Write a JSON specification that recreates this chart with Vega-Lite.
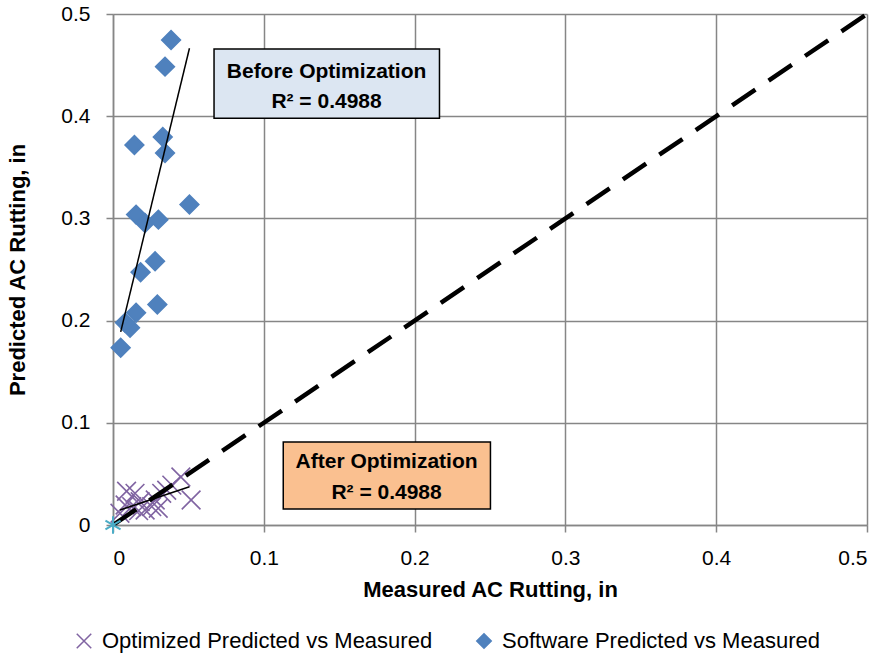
{
  "$schema": "https://vega.github.io/schema/vega-lite/v6.json",
  "width": 754,
  "height": 511,
  "autosize": {"type": "none"},
  "padding": {"left": 113, "top": 14, "right": 17, "bottom": 133},
  "background": "white",
  "config": {
    "font": "Liberation Sans",
    "view": {"stroke": null},
    "axis": {
      "gridColor": "#868686", "gridWidth": 1.5, "domainColor": "#868686", "domainWidth": 1.5,
      "tickColor": "#868686", "tickWidth": 1.5, "tickSize": 7,
      "labelFont": "Liberation Sans", "labelFontSize": 21, "labelColor": "#000",
      "titleFont": "Liberation Sans", "titleFontSize": 22, "titleFontWeight": "bold", "titleColor": "#000"
    },
    "legend": {
      "labelFont": "Liberation Sans", "labelFontSize": 22, "labelColor": "#000", "labelLimit": 450
    }
  },
  "datasets": {
    "pts": [
      {"series": "Software Predicted vs Measured", "x": 0.0385, "y": 0.4746},
      {"series": "Software Predicted vs Measured", "x": 0.0345, "y": 0.4485},
      {"series": "Software Predicted vs Measured", "x": 0.0142, "y": 0.3718},
      {"series": "Software Predicted vs Measured", "x": 0.033, "y": 0.3796},
      {"series": "Software Predicted vs Measured", "x": 0.0345, "y": 0.364},
      {"series": "Software Predicted vs Measured", "x": 0.0507, "y": 0.3135},
      {"series": "Software Predicted vs Measured", "x": 0.0153, "y": 0.3037},
      {"series": "Software Predicted vs Measured", "x": 0.0212, "y": 0.2956},
      {"series": "Software Predicted vs Measured", "x": 0.0301, "y": 0.2988},
      {"series": "Software Predicted vs Measured", "x": 0.0279, "y": 0.258},
      {"series": "Software Predicted vs Measured", "x": 0.0183, "y": 0.2474},
      {"series": "Software Predicted vs Measured", "x": 0.0294, "y": 0.2158},
      {"series": "Software Predicted vs Measured", "x": 0.0153, "y": 0.2077},
      {"series": "Software Predicted vs Measured", "x": 0.0113, "y": 0.193},
      {"series": "Software Predicted vs Measured", "x": 0.008, "y": 0.198},
      {"series": "Software Predicted vs Measured", "x": 0.0051, "y": 0.1735},
      {"series": "Optimized Predicted vs Measured", "x": 0.0518, "y": 0.0245},
      {"series": "Optimized Predicted vs Measured", "x": 0.045, "y": 0.047},
      {"series": "Optimized Predicted vs Measured", "x": 0.039, "y": 0.039},
      {"series": "Optimized Predicted vs Measured", "x": 0.0356, "y": 0.034},
      {"series": "Optimized Predicted vs Measured", "x": 0.0323, "y": 0.031},
      {"series": "Optimized Predicted vs Measured", "x": 0.028, "y": 0.0245},
      {"series": "Optimized Predicted vs Measured", "x": 0.0257, "y": 0.018},
      {"series": "Optimized Predicted vs Measured", "x": 0.03, "y": 0.0164},
      {"series": "Optimized Predicted vs Measured", "x": 0.0213, "y": 0.0147},
      {"series": "Optimized Predicted vs Measured", "x": 0.018, "y": 0.0228},
      {"series": "Optimized Predicted vs Measured", "x": 0.017, "y": 0.014},
      {"series": "Optimized Predicted vs Measured", "x": 0.0146, "y": 0.031},
      {"series": "Optimized Predicted vs Measured", "x": 0.0124, "y": 0.018},
      {"series": "Optimized Predicted vs Measured", "x": 0.009, "y": 0.033},
      {"series": "Optimized Predicted vs Measured", "x": 0.008, "y": 0.0196},
      {"series": "Optimized Predicted vs Measured", "x": 0.0046, "y": 0.0115}
    ],
    "lines": [
      {"line": "before", "x": 0.0051, "y": 0.189},
      {"line": "before", "x": 0.0507, "y": 0.4665},
      {"line": "after", "x": 0.0046, "y": 0.0146},
      {"line": "after", "x": 0.0507, "y": 0.0374}
    ],
    "boxes": [
      {"box": "before", "x": 0.067, "x2": 0.2165, "y": 0.4658, "y2": 0.398},
      {"box": "after", "x": 0.1129, "x2": 0.2503, "y": 0.0812, "y2": 0.0157}
    ],
    "labels": [
      {"text": "Before Optimization", "x": 0.1416, "y": 0.4437},
      {"text": "R² = 0.4988", "x": 0.1416, "y": 0.4143},
      {"text": "After Optimization", "x": 0.1814, "y": 0.0612},
      {"text": "R² = 0.4988", "x": 0.1814, "y": 0.0318}
    ],
    "diag": [
      {"x": 0, "y": 0},
      {"x": 0.5, "y": 0.5}
    ]
  },
  "encoding": {
    "x": {"field": "x", "type": "quantitative", "scale": {"domain": [0, 0.5], "nice": false},
      "axis": {"title": "Measured AC Rutting, in", "values": [0, 0.1, 0.2, 0.3, 0.4, 0.5], "format": ".1~f", "labelPadding": 15, "titlePadding": 11}},
    "y": {"field": "y", "type": "quantitative", "scale": {"domain": [0, 0.5], "nice": false},
      "axis": {"title": "Predicted AC Rutting, in", "values": [0, 0.1, 0.2, 0.3, 0.4, 0.5], "format": ".1~f", "labelPadding": 16, "titlePadding": 31}}
  },
  "layer": [
    {
      "data": {"name": "pts"},
      "mark": {"type": "point", "filled": true, "opacity": 1, "strokeWidth": 1.6, "size": 350},
      "encoding": {
        "shape": {"field": "series", "type": "nominal", "title": null,
          "scale": {"domain": ["Optimized Predicted vs Measured", "Software Predicted vs Measured"], "range": ["M-1,-1L1,1M-1,1L1,-1", "diamond"]},
          "legend": {"orient": "none", "legendX": -40, "legendY": 616, "direction": "horizontal", "columnPadding": 40, "symbolSize": 210, "symbolStrokeWidth": 1.5, "labelOffset": 7,
            "symbolFillColor": "#4F81BD", "symbolOpacity": 1,
            "encode": {"symbols": {"update": {
              "stroke": {"signal": "datum.value === 'Optimized Predicted vs Measured' ? '#8064A2' : '#4F81BD'"}}}}}},
        "fill": {"field": "series", "type": "nominal", "legend": null,
          "scale": {"domain": ["Optimized Predicted vs Measured", "Software Predicted vs Measured"], "range": ["#8064A2", "#4F81BD"]}},
        "stroke": {"field": "series", "type": "nominal", "legend": null,
          "scale": {"domain": ["Optimized Predicted vs Measured", "Software Predicted vs Measured"], "range": ["#8064A2", "#4F81BD"]}}
      }
    },
    {
      "data": {"name": "diag"},
      "mark": {"type": "line", "color": "#000", "strokeWidth": 4.5, "strokeDash": [28, 16], "strokeCap": "butt"},
      "encoding": {}
    },
    {
      "data": {"name": "lines"},
      "mark": {"type": "line", "color": "#000", "strokeWidth": 1.5},
      "encoding": {"detail": {"field": "line"}}
    },
    {
      "data": {"values": [{"x": 0, "y": 0}]},
      "mark": {"type": "point", "shape": "M0,-1L0,1M-0.87,-0.5L0.87,0.5M-0.87,0.5L0.87,-0.5", "stroke": "#4BACC6", "strokeWidth": 2, "size": 300, "filled": false, "opacity": 1},
      "encoding": {}
    },
    {
      "data": {"name": "boxes"},
      "mark": {"type": "rect", "stroke": "#000", "strokeWidth": 1.5},
      "encoding": {
        "x2": {"field": "x2"},
        "y2": {"field": "y2"},
        "fill": {"field": "box", "type": "nominal", "legend": null,
          "scale": {"domain": ["before", "after"], "range": ["#DCE6F2", "#FAC090"]}}
      }
    },
    {
      "data": {"name": "labels"},
      "mark": {"type": "text", "font": "Liberation Sans", "fontSize": 21, "fontWeight": "bold", "color": "#000", "align": "center", "baseline": "middle"},
      "encoding": {"text": {"field": "text"}}
    }
  ],
  "resolve": {"scale": {"fill": "independent"}}
}
